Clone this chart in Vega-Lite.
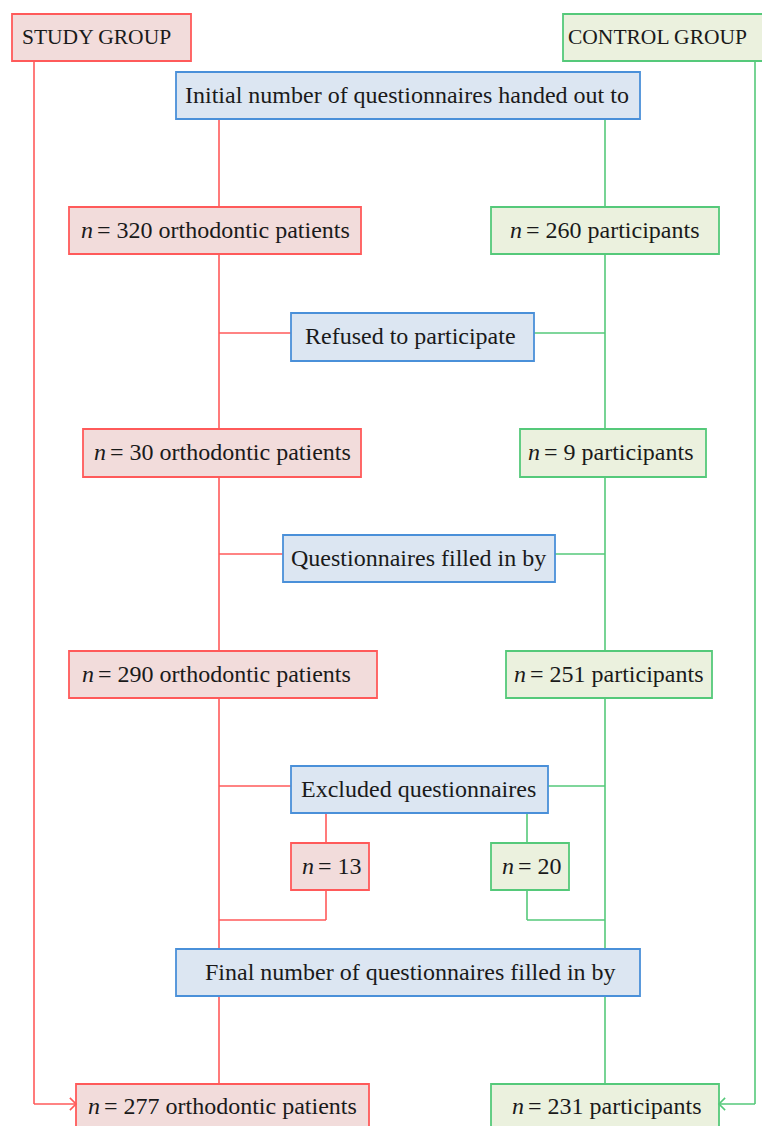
{
  "$schema": "https://vega.github.io/schema/vega-lite/v6.json",
  "width": 762,
  "height": 1126,
  "padding": 0,
  "autosize": {"type": "none"},
  "config": {"view": {"stroke": null}},
  "datasets": {
    "lines": [
      {"g": "study", "x1": 219, "y1": 119, "x2": 219, "y2": 207},
      {"g": "study", "x1": 219, "y1": 254, "x2": 219, "y2": 429},
      {"g": "study", "x1": 219, "y1": 477, "x2": 219, "y2": 651},
      {"g": "study", "x1": 219, "y1": 698, "x2": 219, "y2": 949},
      {"g": "study", "x1": 219, "y1": 996, "x2": 219, "y2": 1084},
      {"g": "study", "x1": 219, "y1": 333, "x2": 291, "y2": 333},
      {"g": "study", "x1": 219, "y1": 554, "x2": 283, "y2": 554},
      {"g": "study", "x1": 219, "y1": 786, "x2": 291, "y2": 786},
      {"g": "study", "x1": 326, "y1": 813, "x2": 326, "y2": 843},
      {"g": "study", "x1": 326, "y1": 890, "x2": 326, "y2": 920},
      {"g": "study", "x1": 219, "y1": 920, "x2": 326, "y2": 920},
      {"g": "study", "x1": 34, "y1": 61, "x2": 34, "y2": 1104},
      {"g": "study", "x1": 34, "y1": 1104, "x2": 75, "y2": 1104},
      {"g": "control", "x1": 605, "y1": 119, "x2": 605, "y2": 207},
      {"g": "control", "x1": 605, "y1": 254, "x2": 605, "y2": 429},
      {"g": "control", "x1": 605, "y1": 477, "x2": 605, "y2": 651},
      {"g": "control", "x1": 605, "y1": 698, "x2": 605, "y2": 949},
      {"g": "control", "x1": 605, "y1": 996, "x2": 605, "y2": 1084},
      {"g": "control", "x1": 534, "y1": 333, "x2": 605, "y2": 333},
      {"g": "control", "x1": 555, "y1": 554, "x2": 605, "y2": 554},
      {"g": "control", "x1": 548, "y1": 786, "x2": 605, "y2": 786},
      {"g": "control", "x1": 527, "y1": 813, "x2": 527, "y2": 843},
      {"g": "control", "x1": 527, "y1": 890, "x2": 527, "y2": 920},
      {"g": "control", "x1": 527, "y1": 920, "x2": 605, "y2": 920},
      {"g": "control", "x1": 755, "y1": 61, "x2": 755, "y2": 1104},
      {"g": "control", "x1": 755, "y1": 1104, "x2": 720, "y2": 1104}
    ],
    "boxes": [
      {"g": "study", "x1": 12, "y1": 14, "x2": 191, "y2": 61},
      {"g": "control", "x1": 563, "y1": 14, "x2": 775, "y2": 61},
      {"g": "shared", "x1": 176, "y1": 72, "x2": 640, "y2": 119},
      {"g": "study", "x1": 69, "y1": 207, "x2": 361, "y2": 254},
      {"g": "control", "x1": 491, "y1": 207, "x2": 719, "y2": 254},
      {"g": "shared", "x1": 291, "y1": 313, "x2": 534, "y2": 361},
      {"g": "study", "x1": 83, "y1": 429, "x2": 361, "y2": 477},
      {"g": "control", "x1": 520, "y1": 429, "x2": 706, "y2": 477},
      {"g": "shared", "x1": 283, "y1": 535, "x2": 555, "y2": 582},
      {"g": "study", "x1": 69, "y1": 651, "x2": 377, "y2": 698},
      {"g": "control", "x1": 506, "y1": 651, "x2": 712, "y2": 698},
      {"g": "shared", "x1": 291, "y1": 766, "x2": 548, "y2": 813},
      {"g": "study", "x1": 291, "y1": 843, "x2": 369, "y2": 890},
      {"g": "control", "x1": 491, "y1": 843, "x2": 569, "y2": 890},
      {"g": "shared", "x1": 176, "y1": 949, "x2": 640, "y2": 996},
      {"g": "study", "x1": 76, "y1": 1084, "x2": 369, "y2": 1140},
      {"g": "control", "x1": 491, "y1": 1084, "x2": 719, "y2": 1140}
    ],
    "headers": [
      {"label": "STUDY GROUP", "tx": 22, "cy": 37.5},
      {"label": "CONTROL GROUP", "tx": 568, "cy": 37.5}
    ],
    "titles": [
      {"label": "Initial number of questionnaires handed out to", "tx": 185, "cy": 95.5},
      {"label": "Refused to participate", "tx": 305, "cy": 337},
      {"label": "Questionnaires filled in by", "tx": 291, "cy": 558.5},
      {"label": "Excluded questionnaires", "tx": 301, "cy": 789.5},
      {"label": "Final number of questionnaires filled in by", "tx": 205, "cy": 972.5}
    ],
    "counts": [
      {"n": "n", "rest": "= 320 orthodontic patients", "tx": 81, "cy": 230.5},
      {"n": "n", "rest": "= 260 participants", "tx": 510, "cy": 230.5},
      {"n": "n", "rest": "= 30 orthodontic patients", "tx": 94, "cy": 453},
      {"n": "n", "rest": "= 9 participants", "tx": 528, "cy": 453},
      {"n": "n", "rest": "= 290 orthodontic patients", "tx": 82, "cy": 674.5},
      {"n": "n", "rest": "= 251 participants", "tx": 514, "cy": 674.5},
      {"n": "n", "rest": "= 13", "tx": 302, "cy": 866.5},
      {"n": "n", "rest": "= 20", "tx": 502, "cy": 866.5},
      {"n": "n", "rest": "= 277 orthodontic patients", "tx": 88, "cy": 1107},
      {"n": "n", "rest": "= 231 participants", "tx": 512, "cy": 1107}
    ],
    "arrows": [
      {"g": "study", "dir": "right", "x": 76, "y": 1104},
      {"g": "control", "dir": "left", "x": 719, "y": 1104}
    ]
  },
  "layer": [
    {
      "data": {"name": "lines"},
      "mark": {"type": "rule", "strokeWidth": 1.6},
      "encoding": {
        "x": {"field": "x1", "type": "quantitative", "scale": {"domain": [0, 762], "nice": false, "zero": false}, "axis": null},
        "x2": {"field": "x2"},
        "y": {"field": "y1", "type": "quantitative", "scale": {"domain": [0, 1126], "nice": false, "zero": false, "reverse": true}, "axis": null},
        "y2": {"field": "y2"},
        "stroke": {"field": "g", "type": "nominal", "scale": {"domain": ["study", "control", "shared"], "range": ["#ff5a5a", "#55c97a", "#4a90d9"]}, "legend": null}
      }
    },
    {
      "data": {"name": "boxes"},
      "mark": {"type": "rect", "strokeWidth": 1.8, "clip": true},
      "encoding": {
        "x": {"field": "x1", "type": "quantitative", "axis": null},
        "x2": {"field": "x2"},
        "y": {"field": "y1", "type": "quantitative", "axis": null},
        "y2": {"field": "y2"},
        "fill": {"field": "g", "type": "nominal", "scale": {"domain": ["study", "control", "shared"], "range": ["#f2dcdb", "#ebf1de", "#dce6f2"]}, "legend": null},
        "stroke": {"field": "g", "type": "nominal", "legend": null}
      }
    },
    {
      "data": {"name": "arrows"},
      "mark": {"type": "point", "filled": false, "strokeWidth": 1.6, "size": 150, "opacity": 1},
      "encoding": {
        "x": {"field": "x", "type": "quantitative", "axis": null},
        "y": {"field": "y", "type": "quantitative", "axis": null},
        "shape": {"field": "dir", "type": "nominal", "scale": {"domain": ["right", "left"], "range": ["M-1,-1L0,0L-1,1", "M1,-1L0,0L1,1"]}, "legend": null},
        "stroke": {"field": "g", "type": "nominal", "legend": null}
      }
    },
    {
      "data": {"name": "headers"},
      "mark": {"type": "text", "align": "left", "baseline": "middle", "font": "Liberation Serif", "fontSize": 21.5, "color": "#1a1a1a"},
      "encoding": {
        "x": {"field": "tx", "type": "quantitative", "axis": null},
        "y": {"field": "cy", "type": "quantitative", "axis": null},
        "text": {"field": "label"}
      }
    },
    {
      "data": {"name": "titles"},
      "mark": {"type": "text", "align": "left", "baseline": "middle", "font": "Liberation Serif", "fontSize": 24, "color": "#1a1a1a"},
      "encoding": {
        "x": {"field": "tx", "type": "quantitative", "axis": null},
        "y": {"field": "cy", "type": "quantitative", "axis": null},
        "text": {"field": "label"}
      }
    },
    {
      "data": {"name": "counts"},
      "mark": {"type": "text", "align": "left", "baseline": "middle", "font": "Liberation Serif", "fontSize": 24, "fontStyle": "italic", "color": "#1a1a1a"},
      "encoding": {
        "x": {"field": "tx", "type": "quantitative", "axis": null},
        "y": {"field": "cy", "type": "quantitative", "axis": null},
        "text": {"field": "n"}
      }
    },
    {
      "data": {"name": "counts"},
      "mark": {"type": "text", "align": "left", "baseline": "middle", "font": "Liberation Serif", "fontSize": 24, "dx": 16, "color": "#1a1a1a"},
      "encoding": {
        "x": {"field": "tx", "type": "quantitative", "axis": null},
        "y": {"field": "cy", "type": "quantitative", "axis": null},
        "text": {"field": "rest"}
      }
    }
  ]
}
